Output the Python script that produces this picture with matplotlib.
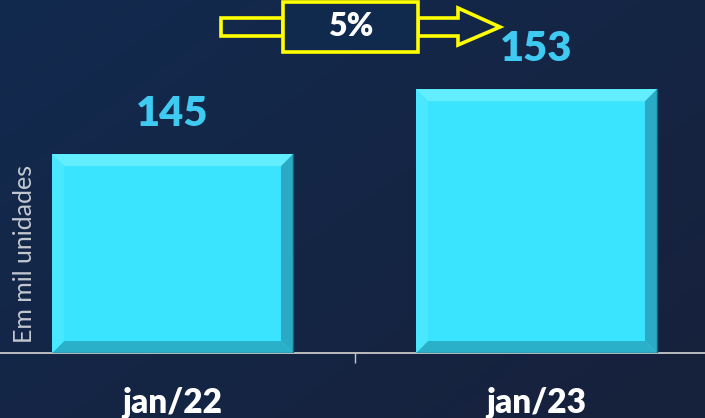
import matplotlib.pyplot as plt
import numpy as np
from matplotlib.patches import Polygon, Rectangle
from matplotlib.transforms import blended_transform_factory

categories = ["jan/22", "jan/23"]
values = [145, 153]
growth_label = "5%"
y_label = "Em mil unidades"

W, H = 705, 418
Y_MIN, Y_MAX = 120.5, 164.0

BAR = "#3ae4fe"
BEVEL_TOP = "#62eeff"
BEVEL_LEFT = "#4ae8ff"
BEVEL_RIGHT = "#2aaac4"
BEVEL_BOT = "#2bb0c9"
VALUE_COLOR = "#3fcaf2"
YELLOW = "#ffff00"
BOX_FILL = "#102a4e"

plt.rcParams["font.family"] = ["Lato", "DejaVu Sans"]

fig = plt.figure(figsize=(W / 100, H / 100), dpi=100)


def fpos(px, py):
    # pixel position (from top-left) -> figure fraction
    return px / W, 1 - py / H


# background gradient
bg = fig.add_axes([0, 0, 1, 1], zorder=0)
yy, xx = np.mgrid[0:1:200j, 0:1:300j]
t = np.clip(0.55 * xx + 0.45 * yy, 0, 1)[..., None]
c1 = np.array([0x12, 0x2a, 0x4f]) / 255
c2 = np.array([0x17, 0x21, 0x3b]) / 255
bg.imshow(c1 * (1 - t) + c2 * t, aspect="auto", extent=[0, 1, 0, 1], origin="upper")
bg.axis("off")

ax = fig.add_axes([0, 65 / H, 1, 353 / H], zorder=1)
ax.patch.set_alpha(0)
x = np.arange(len(categories))
width = 0.662
heights = [v - Y_MIN for v in values]
ax.bar(x, heights, width=width, bottom=Y_MIN, color=BAR, zorder=2)
ax.set_xlim(-0.474, 1.463)
ax.set_ylim(Y_MIN, Y_MAX)

# bevel edges, sized in pixels
px_x = W / (1.463 + 0.474)
px_y = 353 / (Y_MAX - Y_MIN)
bx, by = 12 / px_x, 12 / px_y
for xi, v in zip(x, values):
    x0, x1 = xi - width / 2, xi + width / 2
    y0, y1 = Y_MIN, v
    faces = [
        ([(x0, y1), (x1, y1), (x1 - bx, y1 - by), (x0 + bx, y1 - by)], BEVEL_TOP),
        ([(x0, y0), (x1, y0), (x1 - bx, y0 + by), (x0 + bx, y0 + by)], BEVEL_BOT),
        ([(x0, y0), (x0, y1), (x0 + bx, y1 - by), (x0 + bx, y0 + by)], BEVEL_LEFT),
        ([(x1, y0), (x1, y1), (x1 - bx, y1 - by), (x1 - bx, y0 + by)], BEVEL_RIGHT),
    ]
    for pts, col in faces:
        ax.add_patch(Polygon(pts, closed=True, color=col, lw=0, zorder=3))
    ax.plot([x1, x1, x0], [y1, y0, y0], color="#1b5f78", lw=1.0, zorder=4)
    ax.text(xi, v + 40 / px_y, f"{v}", ha="center", va="center",
            fontsize=30, fontweight="heavy", color=VALUE_COLOR)

trans = blended_transform_factory(ax.transData, ax.transAxes)
for xi, lab in zip(x, categories):
    ax.text(xi, -50 / 353, lab, transform=trans, ha="center", va="center",
            fontsize=24, fontweight="heavy", color="white")

for s in ["top", "right", "left"]:
    ax.spines[s].set_visible(False)
ax.spines["bottom"].set_color("#c8c8c8")
ax.spines["bottom"].set_linewidth(1.3)
ax.set_yticks([])
ax.set_xticks([])
ax.set_xticks([0.5], minor=True)
ax.tick_params(axis="x", which="minor", length=7, width=1, color="#c8c8c8",
               labelbottom=False)

fig.text(*fpos(25, 254), y_label, rotation=90, ha="center", va="center",
         fontsize=18, color="#c4c8d0")

# growth arrow with box
lw = 2.6
tf = fig.transFigure
fig.patches.append(Rectangle(fpos(221, 36), 62 / W, 18 / H, transform=tf,
                             fill=False, edgecolor=YELLOW, lw=lw, zorder=5))
head = [fpos(418, 18), fpos(458, 18), fpos(458, 8), fpos(500, 27),
        fpos(458, 45), fpos(458, 36), fpos(418, 36)]
fig.patches.append(Polygon(head, closed=True, transform=tf, fill=False,
                           edgecolor=YELLOW, lw=lw, zorder=5))
fig.patches.append(Rectangle(fpos(283, 52), 135 / W, 50 / H, transform=tf,
                             facecolor=BOX_FILL, edgecolor=YELLOW, lw=lw, zorder=6))
fig.text(*fpos(351, 26), growth_label, ha="center", va="center", fontsize=23,
         fontweight="heavy", color="white", zorder=7)

fig.savefig("out.png", dpi=100)
